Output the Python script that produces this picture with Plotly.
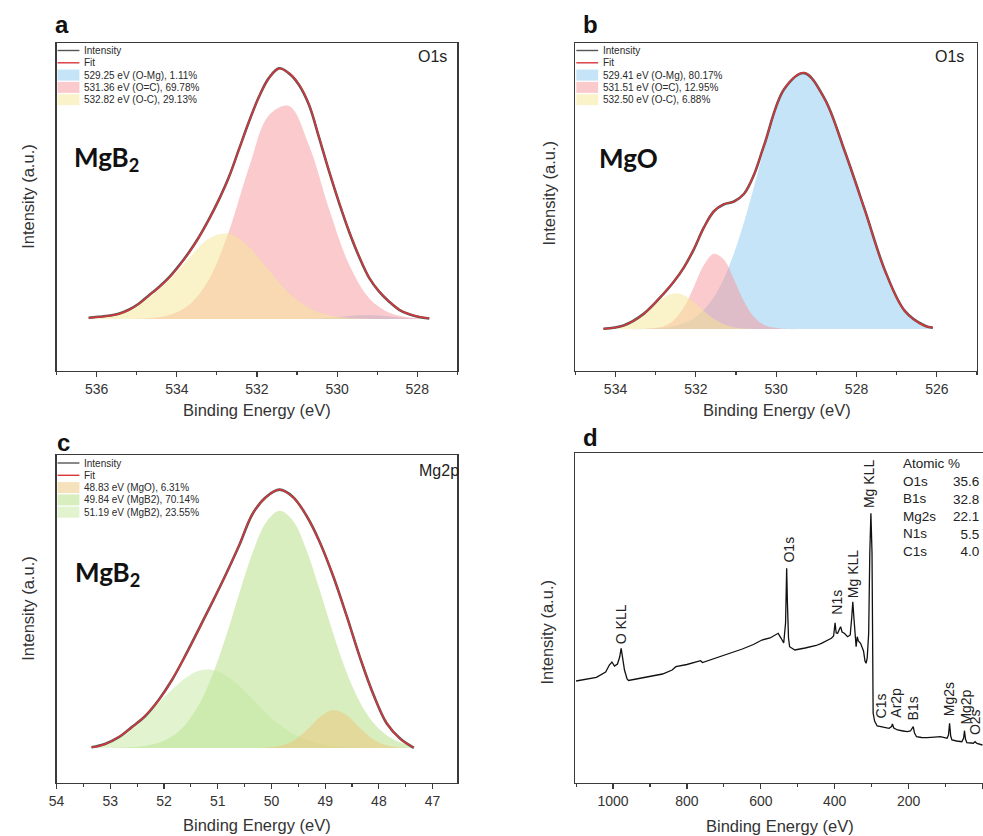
import plotly.graph_objects as go

W, H = 983, 836

# ---------------- data ----------------
# (a) O1s, MgB2 -- fitted components
a_energy = [536.2, 535.7, 535.2, 534.7, 534.2, 533.7, 533.2, 532.7, 532.2, 531.7,
            531.2, 530.7, 530.2, 529.7, 529.2, 528.7, 528.2, 527.7]
a_o_mg = [0, 0, 0, 0, 0, 0, 0, 0, 0, 0,
          0, 0.05, 0.46, 1.2, 1.6, 1.05, 0.35, 0.06]
a_o_dbl_c = [0, 0, 0.03, 0.3, 1.5, 5.6, 15.8, 35.0, 60.4, 81.2,
             84.9, 69.2, 43.9, 21.7, 8.3, 2.5, 0.6, 0.1]
a_o_c = [0.3, 1.5, 4.0, 8.5, 15.5, 24.1, 32.1, 34.1, 28.8, 19.4,
         10.4, 4.5, 1.5, 0.4, 0.1, 0, 0, 0]
# (a) measured envelope and fit
a_env_energy = [536.2, 535.95, 535.7, 535.45, 535.2, 534.95, 534.7, 534.45, 534.2, 533.95,
                533.7, 533.45, 533.2, 532.95, 532.7, 532.45, 532.2, 531.95, 531.7, 531.45,
                531.2, 530.95, 530.7, 530.45, 530.2, 529.95, 529.7, 529.45, 529.2, 528.95,
                528.7, 528.45, 528.2, 527.95, 527.7]
a_fit = [0.4, 0.8, 1.2, 2.0, 3.6, 6.0, 9.3, 12.5, 16.3, 21.0,
         26.3, 32.5, 39.5, 47.5, 56.5, 67.5, 78.5, 88.5, 96.0, 99.8,
         98.0, 93.5, 85.5, 72.5, 59.0, 46.5, 35.0, 25.0, 16.5, 11.0,
         7.0, 3.8, 2.0, 0.9, 0.3]
a_intensity = [0.5, 0.9, 1.3, 2.1, 3.7, 6.1, 9.4, 12.7, 16.5, 21.2,
               26.5, 32.6, 39.7, 47.6, 56.6, 67.6, 78.6, 88.6, 96.1, 99.9,
               97.9, 93.3, 85.3, 72.3, 58.8, 46.3, 34.8, 24.8, 16.4, 10.9,
               6.9, 3.7, 1.9, 0.8, 0.2]
a_labels = ["Intensity", "Fit", "529.25 eV (O-Mg), 1.11%",
            "531.36 eV (O=C), 69.78%", "532.82 eV (O-C), 29.13%"]

# (b) O1s, MgO
b_energy = [534.3, 533.8, 533.3, 532.8, 532.55, 532.3, 532.05, 531.8, 531.55, 531.3,
            531.05, 530.8, 530.55, 530.3, 529.8, 529.3, 528.8, 528.3, 527.8, 527.3,
            526.8, 526.3, 526.1]
b_intensity = [0.1, 1.4, 5.9, 13.8, 18.4, 23.9, 31.0, 39.5, 45.8, 48.5,
               49.6, 52.6, 60.1, 71.5, 93.3, 99.5, 89.7, 69.4, 46.6, 23.1,
               7.1, 1.3, 0.5]
b_fit = [0.15, 1.35, 5.86, 13.87, 18.37, 23.85, 31.14, 39.44, 45.77, 48.58,
         49.55, 52.55, 60.22, 71.42, 93.38, 99.6, 89.6, 69.5, 46.5, 23.0,
         7.0, 1.2, 0.6]
b_o_mg = [0, 0.02, 0.1, 0.55, 1.14, 2.3, 4.24, 7.5, 12.5, 19.8,
          29.5, 41.6, 55.5, 69.8, 93.3, 99.6, 89.6, 69.5, 46.5, 23.0,
          7.0, 1.2, 0.6]
b_o_dbl_c = [0, 0, 0.05, 1.05, 3.38, 8.4, 16.4, 24.9, 29.3, 26.9,
             19.3, 10.7, 4.65, 1.6, 0.08, 0, 0, 0, 0, 0,
             0, 0, 0]
b_o_c = [0.15, 1.33, 5.71, 12.27, 13.85, 13.15, 10.5, 7.04, 3.97, 1.88,
         0.75, 0.25, 0.07, 0.02, 0, 0, 0, 0, 0, 0,
         0, 0, 0]
b_labels = ["Intensity", "Fit", "529.41 eV (O-Mg), 80.17%",
            "531.51 eV (O=C), 12.95%", "532.50 eV (O-C), 6.88%"]

# (c) Mg2p, MgB2
c_energy = [53.35, 53.10, 52.85, 52.60, 52.35, 52.10, 51.85, 51.60, 51.35, 51.10,
            50.85, 50.60, 50.35, 50.10, 49.85, 49.60, 49.35, 49.10, 48.85, 48.60,
            48.35, 48.10, 47.85, 47.60, 47.35]
c_intensity = [0.3, 1.6, 4.1, 8.1, 12.4, 18.6, 26.4, 35.9, 46.1, 56.4,
               67.1, 78.4, 90.6, 97.1, 99.9, 97.1, 89.9, 79.6, 66.4, 51.1,
               34.9, 20.6, 9.4, 3.6, 0.1]
c_fit = [0.2, 1.5, 4.2, 8.0, 12.5, 18.5, 26.5, 35.8, 46.0, 56.5,
         67.0, 78.5, 90.7, 97.0, 100.0, 97.0, 90.0, 79.5, 66.5, 51.0,
         35.0, 20.5, 9.5, 3.5, 0.2]
c_mgo = [0, 0, 0, 0, 0, 0, 0, 0, 0, 0,
         0, 0, 0.02, 0.15, 0.77, 2.74, 6.83, 11.96, 14.7, 12.66,
         7.65, 3.25, 0.97, 0.2, 0.03]
c_mgb2_main = [0.01, 0.03, 0.11, 0.32, 0.85, 2.05, 4.55, 9.16, 16.8, 28.2,
               42.9, 59.7, 75.6, 87.2, 91.7, 87.9, 76.7, 61.0, 44.3, 29.2,
               17.6, 9.65, 4.83, 2.2, 0.9]
c_mgb2_side = [0.2, 1.4, 3.8, 7.2, 12.0, 17.4, 22.6, 27.1, 29.9, 30.2,
               28.1, 24.0, 18.9, 13.6, 9.0, 5.5, 3.1, 1.6, 0.75, 0.33,
               0.13, 0.05, 0.02, 0, 0]
c_labels = ["Intensity", "Fit", "48.83 eV (MgO), 6.31%",
            "49.84 eV (MgB2), 70.14%", "51.19 eV (MgB2), 23.55%"]

# (d) survey spectrum
d_energy = [1100, 1075, 1045, 1020, 1010, 1003, 996, 988, 982, 978, 974, 969, 962, 958,
            930, 900, 866, 840, 830, 800, 770, 763, 758, 730, 700, 687, 650, 620, 597,
            575, 560, 553, 545, 538, 533, 531, 530, 528, 525, 522, 515, 508, 480, 450,
            436, 420, 409, 403, 399, 396, 392, 387, 384, 380, 374, 365, 358, 354, 351,
            348, 344, 342, 339, 336, 330, 322, 318, 315, 312, 308, 305, 302, 299, 297.5,
            296, 292, 288, 285, 275, 260, 253, 246, 243.8, 240, 230, 215, 203.6, 195,
            189, 187.5, 184, 178.5, 165, 150, 130, 114, 100, 96, 92, 89.1, 86, 82.7,
            70, 56, 51, 48.8, 46, 42.4, 30, 25, 20, 15, 0]
d_counts = [102, 103.5, 105.7, 111, 118, 121, 117, 119, 126, 134.7, 124, 113, 104, 102.5,
            104.5, 106.5, 109, 113, 116.3, 118.5, 121, 122.3, 120.5, 124, 127, 129, 134, 138.5, 143,
            145, 148, 149.7, 144.7, 140, 160, 200, 214.7, 180, 145, 136.3, 134.5, 133, 135, 137.5,
            139.7, 142.5, 144.7, 147, 160.3, 150, 149.7, 154, 156.3, 151, 149.7, 146.3, 148, 165, 181.3,
            165, 140, 136.3, 146.3, 142, 139.7, 132, 122, 119.7, 125, 150, 230, 269.7, 230, 120,
            70, 62, 58, 57, 56.3, 55, 54.7, 56.5, 59, 55, 53, 52, 51.3, 52,
            55, 56.3, 50, 46.3, 45.5, 45.3, 45.8, 46.3, 45.2, 44.7, 48, 59.7, 47, 43,
            42, 41.3, 45, 52.3, 44, 40.3, 40, 39.7, 41.3, 39.5, 38]
d_peak_labels = ["O KLL", "O1s", "N1s", "Mg KLL", "Mg KLL", "C1s", "Ar2p", "B1s",
                 "Mg2s", "Mg2p", "O2s"]
d_peak_energy = [978, 525, 396, 350, 307, 275, 235, 187, 90, 47, 20]
d_peak_base = [137, 218, 166, 183, 273, 63, 63, 61, 65, 56, 46]
atomic_names = ["O1s", "B1s", "Mg2s", "N1s", "C1s"]
atomic_values = ["35.6", "32.8", "22.1", "5.5", "4.0"]

# ---------------- styles ----------------
FONT = "Arial, Liberation Sans, sans-serif"
AXC = "#3a3a3a"
GRAY_LINE = "#555555"
RED = "#d9363a"
BLUE_F = "rgba(135,198,238,0.48)"
PINK_F = "rgba(245,150,156,0.5)"
YELL_F = "rgba(245,232,150,0.5)"
ORNG_F = "rgba(236,196,120,0.5)"
GRN_F = "rgba(178,222,128,0.5)"
GRN2_F = "rgba(196,232,160,0.5)"


def fx(p):
    return p / W


def fy(p):
    return 1 - p / H


fig = go.Figure()


def add_peaks(xname, yname, x, comps, fills, xenv, inten, fit):
    for vals, col in zip(comps, fills):
        fig.add_trace(go.Scatter(x=x, y=vals, mode="lines", fill="tozeroy",
                                 fillcolor=col, line=dict(width=0, shape="spline", color=col),
                                 xaxis=xname, yaxis=yname, showlegend=False, hoverinfo="skip"))
    fig.add_trace(go.Scatter(x=xenv, y=inten, mode="lines",
                             line=dict(color=GRAY_LINE, width=2.6, shape="spline"),
                             xaxis=xname, yaxis=yname, showlegend=False))
    fig.add_trace(go.Scatter(x=xenv, y=fit, mode="lines",
                             line=dict(color=RED, width=1.5, shape="spline"),
                             xaxis=xname, yaxis=yname, showlegend=False))


add_peaks("x", "y", a_energy, [a_o_mg, a_o_dbl_c, a_o_c], [BLUE_F, PINK_F, YELL_F],
          a_env_energy, a_intensity, a_fit)
add_peaks("x2", "y2", b_energy, [b_o_mg, b_o_dbl_c, b_o_c], [BLUE_F, PINK_F, YELL_F],
          b_energy, b_intensity, b_fit)
add_peaks("x3", "y3", c_energy, [c_mgb2_main, c_mgb2_side, c_mgo], [GRN_F, GRN2_F, ORNG_F],
          c_energy, c_intensity, c_fit)

fig.add_trace(go.Scatter(x=d_energy, y=d_counts, mode="lines",
                         line=dict(color="#111111", width=1.3),
                         xaxis="x4", yaxis="y4", showlegend=False))


def xaxis(d0, d1, rng, dtick, mdtick, anchor, mirror=True):
    return dict(domain=[fx(d0), fx(d1)], range=rng, anchor=anchor,
                showline=True, linecolor=AXC, linewidth=1.3, mirror=mirror,
                ticks="outside", ticklen=5, tickwidth=1.2, tickcolor=AXC,
                tick0=0, dtick=dtick,
                minor=dict(dtick=mdtick, ticks="outside", ticklen=3, tickwidth=1.1, tickcolor=AXC),
                tickfont=dict(family=FONT, size=14, color="#333333"),
                showgrid=False, zeroline=False, fixedrange=True)


def yaxis(t0, t1, rng, anchor, mirror=True):
    return dict(domain=[fy(t1), fy(t0)], range=rng, anchor=anchor,
                showline=True, linecolor=AXC, linewidth=1.3, mirror=mirror,
                ticks="", showticklabels=False, showgrid=False, zeroline=False,
                fixedrange=True)


annotations = []
shapes = []


def text(x, y, s, size, **kw):
    d = dict(x=fx(x), y=fy(y), xref="paper", yref="paper", text=s, showarrow=False,
             font=dict(family=kw.pop("family", FONT), size=size, color=kw.pop("color", "#333333")),
             xanchor=kw.pop("xanchor", "center"), yanchor=kw.pop("yanchor", "middle"))
    d.update(kw)
    annotations.append(d)


def legend(x0, y0, labels, kinds):
    row = 12.3
    for i, (lab, kind) in enumerate(zip(labels, kinds)):
        yc = y0 + i * row
        if kind in (GRAY_LINE, RED):
            shapes.append(dict(type="line", xref="paper", yref="paper",
                               x0=fx(x0), x1=fx(x0 + 22), y0=fy(yc), y1=fy(yc),
                               line=dict(color=kind, width=1.4)))
        else:
            shapes.append(dict(type="rect", xref="paper", yref="paper",
                               x0=fx(x0), x1=fx(x0 + 22), y0=fy(yc + 5.5), y1=fy(yc - 5.5),
                               fillcolor=kind, line=dict(width=0)))
        text(x0 + 25, yc, lab, 10, xanchor="left", color="#2a2a2a")


legend(50, 50.5, a_labels, [GRAY_LINE, RED, BLUE_F, PINK_F, YELL_F])
legend(573, 50.5, b_labels, [GRAY_LINE, RED, BLUE_F, PINK_F, YELL_F])
legend(50, 463, c_labels, [GRAY_LINE, RED, ORNG_F, GRN_F, GRN2_F])

# panel letters
for (px_, py_, s) in [(54, 25, "a"), (587, 25, "b"), (56, 443, "c"), (587, 437, "d")]:
    text(px_, py_, "<b>%s</b>" % s, 24, color="#111111")

# sample names
text(99, 158, "<b>MgB<sub>2</sub></b>", 26, family="Lato, Carlito, sans-serif", color="#111111")
text(626, 158, "<b>MgO</b>", 26, family="Lato, Carlito, sans-serif", color="#111111")
text(100, 573, "<b>MgB<sub>2</sub></b>", 26, family="Lato, Carlito, sans-serif", color="#111111")

# core level tags
text(428, 56, "O1s", 16, color="#222222")
text(949, 56, "O1s", 16, color="#222222")
text(412, 470, "Mg2p", 16, color="#222222", xanchor="left")

# axis titles
for (cx, cy) in [(251, 410), (775, 410), (251, 825), (778, 826)]:
    text(cx, cy, "Binding Energy (eV)", 16.5)
for (cx, cy) in [(20, 196), (545, 193), (20, 608), (543, 632)]:
    text(cx, cy, "Intensity (a.u.)", 16.5, textangle=-90)

# survey peak labels
for lab, e, base in zip(d_peak_labels, d_peak_energy, d_peak_base):
    annotations.append(dict(x=e, y=base, xref="x4", yref="y4", text=lab, showarrow=False,
                            textangle=-90, xanchor="center", yanchor="bottom",
                            font=dict(family=FONT, size=14, color="#222222")))

# atomic % table
text(900, 454, "Atomic %<br>" + "<br>".join(atomic_names), 13.5, xanchor="left",
     yanchor="top", align="left", color="#222222")
text(981, 471.5, "<br>".join(atomic_values), 13.5, xanchor="right",
     yanchor="top", align="right", color="#222222")

fig.update_layout(
    width=W, height=H, margin=dict(l=0, r=0, t=0, b=0),
    paper_bgcolor="white", plot_bgcolor="white", showlegend=False,
    xaxis=xaxis(49, 453, [537, 527], 2, 1, "y"),
    yaxis=yaxis(43, 371, [-20.7, 110.0], "x"),
    xaxis2=xaxis(572, 977, [535, 525], 2, 1, "y2"),
    yaxis2=yaxis(43, 371, [-16.3, 111.2], "x2"),
    xaxis3=xaxis(49, 453, [54, 46.54], 1, 0.5, "y3"),
    yaxis3=yaxis(455, 783, [-13.5, 113.3], "x3"),
    xaxis4=xaxis(572, 983, [1102, -1.4], 200, 100, "y4"),
    yaxis4=yaxis(453, 783, [0, 330], "x4", mirror=False),
    annotations=annotations, shapes=shapes,
)

fig.write_html("out.html", config={"displayModeBar": False, "staticPlot": True},
               post_script="document.body.style.margin='0px';document.body.style.overflow='hidden';")
